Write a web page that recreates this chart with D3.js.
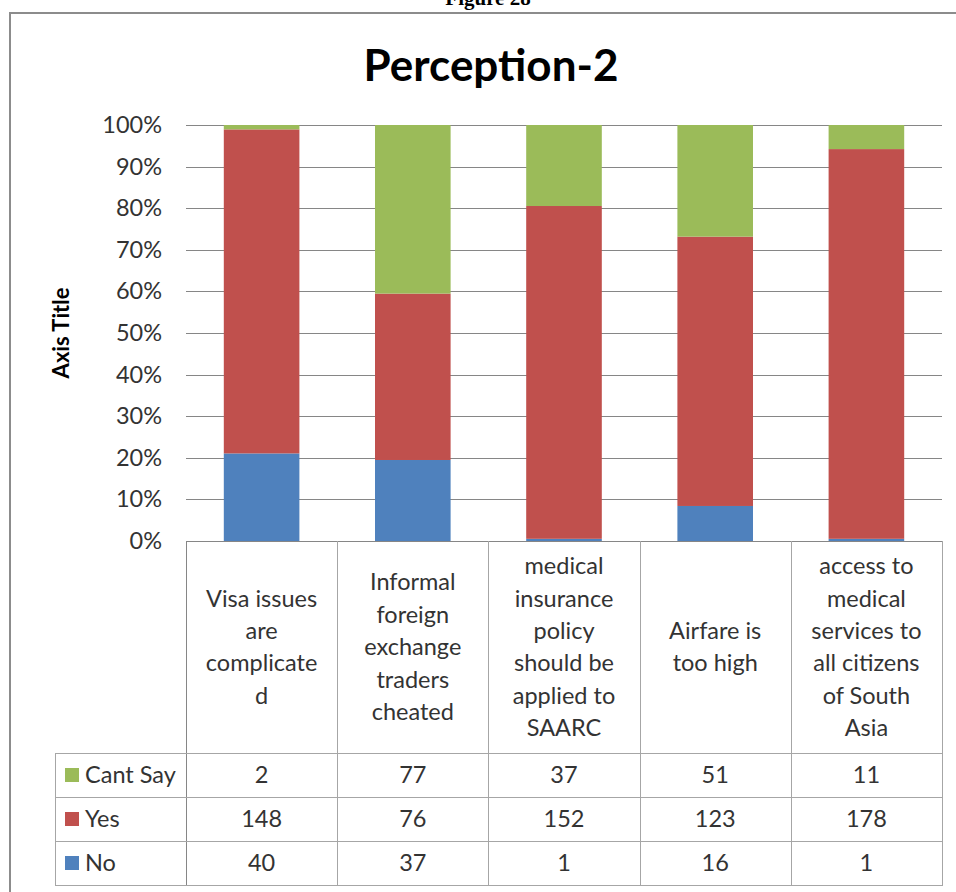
<!DOCTYPE html>
<html>
<head>
<meta charset="utf-8">
<script src="https://cdn.jsdelivr.net/npm/d3@7"></script>
<style>
  html, body { margin: 0; padding: 0; background: #fff; }
  svg { display: block; }
  text { font-family: Lato, "Open Sans", sans-serif; }
</style>
</head>
<body>
<svg id="chart" width="956" height="892"></svg>
<script>
// Survey answers per statement (counts)
const categories = [
  ["Visa issues", "are", "complicate", "d"],
  ["Informal", "foreign", "exchange", "traders", "cheated"],
  ["medical", "insurance", "policy", "should be", "applied to", "SAARC"],
  ["Airfare is", "too high"],
  ["access to", "medical", "services to", "all citizens", "of South", "Asia"]
];
const seriesNames = ["No", "Yes", "Cant Say"];
const noValues      = [40, 37, 1, 16, 1];
const yesValues     = [148, 76, 152, 123, 178];
const cantSayValues = [2, 77, 37, 51, 11];
const seriesColors  = ["#4F81BD", "#C0504D", "#9BBB59"];
const yTicks = [0, 0.1, 0.2, 0.3, 0.4, 0.5, 0.6, 0.7, 0.8, 0.9, 1];

const rows = categories.map((c, i) => ({
  idx: i,
  "No": noValues[i],
  "Yes": yesValues[i],
  "Cant Say": cantSayValues[i]
}));

const svg = d3.select("#chart");

// Layout
const plot = { left: 186, right: 942, top: 125, bottom: 541 };
const table = { legendLeft: 55, headerBottom: 753, rowH: 44 };
const gridColor = "#868686";
const tableColor = "#A6A6A6";
const textColor = "#333333";
const cellFont = "23.5px";

// Outer frame of the chart object
svg.append("rect")
  .attr("x", 10).attr("y", 13)
  .attr("width", 1000).attr("height", 1000)
  .attr("fill", "none").attr("stroke", "#8C8C8C").attr("stroke-width", 2);

// Caption above the frame (runs off the top of the page)
svg.append("text")
  .attr("x", 488).attr("y", 5)
  .attr("text-anchor", "middle")
  .style("font-family", "'Liberation Serif', 'Times New Roman', serif")
  .style("font-weight", "bold").style("font-size", "21px")
  .attr("fill", "#000")
  .text("Figure 28");

// Chart title
svg.append("text")
  .attr("x", 491).attr("y", 81)
  .attr("text-anchor", "middle")
  .style("font-weight", "bold").style("font-size", "44px")
  .attr("fill", "#000")
  .text("Perception-2");

const x = d3.scaleBand()
  .domain(d3.range(categories.length))
  .range([plot.left, plot.right])
  .paddingInner(0.5).paddingOuter(0.25);

const y = d3.scaleLinear().domain([0, 1]).range([plot.bottom, plot.top]);

// Horizontal gridlines
svg.append("g")
  .selectAll("line")
  .data(yTicks)
  .join("line")
  .attr("x1", plot.left).attr("x2", plot.right)
  .attr("y1", d => Math.round(y(d)) + 0.5).attr("y2", d => Math.round(y(d)) + 0.5)
  .attr("stroke", gridColor).attr("stroke-width", 1);

// Y axis (labels only; gridlines drawn above)
const yAxis = d3.axisLeft(y)
  .tickValues(yTicks)
  .tickFormat(d3.format(".0%"))
  .tickSize(0).tickPadding(24);
const yg = svg.append("g")
  .attr("transform", `translate(${plot.left},0)`)
  .call(yAxis);
yg.select(".domain").remove();
yg.selectAll("text")
  .style("font-family", "Lato, sans-serif")
  .style("font-size", "23.5px")
  .attr("fill", textColor);

// Axis title
svg.append("text")
  .attr("transform", `translate(69,333) rotate(-90)`)
  .attr("text-anchor", "middle")
  .style("font-weight", "bold").style("font-size", "22px")
  .attr("fill", "#000")
  .text("Axis Title");

// 100% stacked bars
const stack = d3.stack().keys(seriesNames).offset(d3.stackOffsetExpand);
const layers = stack(rows);

svg.append("g")
  .selectAll("g")
  .data(layers)
  .join("g")
  .attr("fill", (d, i) => seriesColors[i])
  .selectAll("rect")
  .data(d => d)
  .join("rect")
  .attr("x", d => x(d.data.idx))
  .attr("width", x.bandwidth())
  .attr("y", d => y(d[1]))
  .attr("height", d => y(d[0]) - y(d[1]));

// Data table beneath the plot
const colEdges = d3.range(categories.length + 1).map(i => plot.left + i * x.step());
const rowTops = d3.range(seriesNames.length + 1).map(i => table.headerBottom + i * table.rowH);
const tableBottom = rowTops[rowTops.length - 1];
const tg = svg.append("g");

// vertical rules
colEdges.forEach(cx => {
  tg.append("line")
    .attr("x1", Math.round(cx) + 0.5).attr("x2", Math.round(cx) + 0.5)
    .attr("y1", plot.bottom).attr("y2", tableBottom)
    .attr("stroke", cx === plot.left ? gridColor : tableColor);
});
tg.append("line")
  .attr("x1", table.legendLeft + 0.5).attr("x2", table.legendLeft + 0.5)
  .attr("y1", table.headerBottom).attr("y2", tableBottom)
  .attr("stroke", tableColor);
// horizontal rules
rowTops.forEach(ry => {
  tg.append("line")
    .attr("x1", table.legendLeft).attr("x2", plot.right + 1)
    .attr("y1", ry + 0.5).attr("y2", ry + 0.5)
    .attr("stroke", tableColor);
});

// category labels in the header cells
const lineH = 32.4;
const headerMid = (plot.bottom + table.headerBottom) / 2;
categories.forEach((lines, i) => {
  const cx = x(i) + x.bandwidth() / 2;
  const t = tg.append("text")
    .attr("text-anchor", "middle")
    .style("font-size", cellFont)
    .attr("fill", textColor);
  lines.forEach((ln, j) => {
    t.append("tspan")
      .attr("x", cx)
      .attr("y", headerMid + (j - (lines.length - 1) / 2) * lineH)
      .attr("dy", "0.35em")
      .text(ln);
  });
});

// table rows: top row is the last series (Cant Say), as in the legend
const tableSeries = [
  { name: "Cant Say", values: cantSayValues, color: seriesColors[2] },
  { name: "Yes", values: yesValues, color: seriesColors[1] },
  { name: "No", values: noValues, color: seriesColors[0] }
];
tableSeries.forEach((s, r) => {
  const cy = rowTops[r] + table.rowH / 2;
  tg.append("rect")
    .attr("x", 65).attr("y", cy - 7)
    .attr("width", 14).attr("height", 14)
    .attr("fill", s.color);
  tg.append("text")
    .attr("x", 85).attr("y", cy).attr("dy", "0.35em")
    .style("font-size", cellFont)
    .attr("fill", textColor)
    .text(s.name);
  s.values.forEach((v, i) => {
    tg.append("text")
      .attr("x", x(i) + x.bandwidth() / 2)
      .attr("y", cy).attr("dy", "0.35em")
      .attr("text-anchor", "middle")
      .style("font-size", cellFont)
      .attr("fill", textColor)
      .text(v);
  });
});
</script>
</body>
</html>
